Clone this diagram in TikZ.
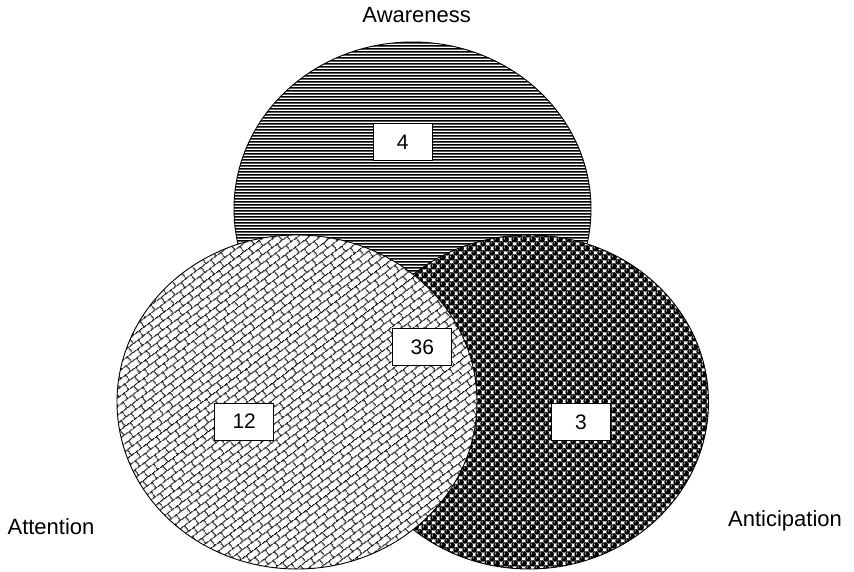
\documentclass[tikz,border=0pt]{standalone}
\usepackage{fontspec}
\setmainfont{Liberation Sans}
\usetikzlibrary{patterns.meta}

\pgfdeclarepattern{
  name=hstripes, type=colored,
  bottom left={\pgfpoint{0pt}{0pt}}, top right={\pgfpoint{3pt}{3pt}},
  tile size={\pgfpoint{3pt}{3pt}},
  code={\pgfsetfillcolor{black}\pgfpathrectangle{\pgfpoint{-1pt}{0.6pt}}{\pgfpoint{5pt}{1.8pt}}\pgfusepath{fill}}
}
\pgfdeclarepattern{
  name=bricks, type=colored,
  bottom left={\pgfpoint{0pt}{0pt}}, top right={\pgfpoint{13pt}{14pt}},
  tile size={\pgfpoint{13pt}{14pt}},
  tile transformation={\pgftransformrotate{37}},
  code={\pgfsetlinewidth{1.1pt}\pgfsetstrokecolor{black}
    \pgfpathmoveto{\pgfpoint{-1pt}{3.5pt}}\pgfpathlineto{\pgfpoint{14pt}{3.5pt}}
    \pgfpathmoveto{\pgfpoint{-1pt}{10.5pt}}\pgfpathlineto{\pgfpoint{14pt}{10.5pt}}
    \pgfpathmoveto{\pgfpoint{3pt}{3.5pt}}\pgfpathlineto{\pgfpoint{3pt}{10.5pt}}
    \pgfpathmoveto{\pgfpoint{9.5pt}{10.5pt}}\pgfpathlineto{\pgfpoint{9.5pt}{15pt}}
    \pgfpathmoveto{\pgfpoint{9.5pt}{-1pt}}\pgfpathlineto{\pgfpoint{9.5pt}{3.5pt}}
    \pgfusepath{stroke}}
}
\pgfdeclarepattern{
  name=balls, type=colored,
  bottom left={\pgfpoint{0pt}{0pt}}, top right={\pgfpoint{8.6pt}{8.6pt}},
  tile size={\pgfpoint{8.6pt}{8.6pt}},
  code={\pgfsetfillcolor{black}
    \pgfpathcircle{\pgfpoint{0pt}{0pt}}{3pt}
    \pgfpathcircle{\pgfpoint{8.6pt}{0pt}}{3pt}
    \pgfpathcircle{\pgfpoint{0pt}{8.6pt}}{3pt}
    \pgfpathcircle{\pgfpoint{8.6pt}{8.6pt}}{3pt}
    \pgfpathcircle{\pgfpoint{4.3pt}{4.3pt}}{3pt}
    \pgfusepath{fill}
    \pgfsetfillcolor{white}
    \pgfpathcircle{\pgfpoint{-0.9pt}{0.9pt}}{0.7pt}
    \pgfpathcircle{\pgfpoint{7.7pt}{0.9pt}}{0.7pt}
    \pgfpathcircle{\pgfpoint{-0.9pt}{9.5pt}}{0.7pt}
    \pgfpathcircle{\pgfpoint{7.7pt}{9.5pt}}{0.7pt}
    \pgfpathcircle{\pgfpoint{3.4pt}{5.2pt}}{0.7pt}
    \pgfusepath{fill}}
}

\tikzset{
  setline/.style={draw=black, line width=0.9pt},
  numbox/.style={draw=black, line width=1pt, fill=white, minimum width=59pt, minimum height=37pt, inner sep=0pt, font=\fontsize{21}{25}\selectfont},
  lbl/.style={anchor=base, inner sep=0pt, font=\fontsize{22}{26}\selectfont}
}

\begin{document}
\begin{tikzpicture}[x=1pt,y=-1pt]
\useasboundingbox (0,0) rectangle (854,572);
% Awareness set
\path[fill=white] (412.5,209) ellipse [x radius=178.5, y radius=167];
\path[pattern=hstripes] (412.5,209) ellipse [x radius=178.5, y radius=167];
\path[setline] (412.5,209) ellipse [x radius=178.5, y radius=167];
% Anticipation set
\path[fill=white] (529,402) ellipse [x radius=179.5, y radius=167];
\path[pattern=balls] (529,402) ellipse [x radius=179.5, y radius=167];
\path[setline] (529,402) ellipse [x radius=179.5, y radius=167];
% Attention set
\path[fill=white] (297,402) ellipse [x radius=180, y radius=167];
\path[pattern=bricks] (297,402) ellipse [x radius=180, y radius=167];
\path[setline] (297,402) ellipse [x radius=180, y radius=167];

\node[numbox] (n4) at (402.7,142.5) {4};
\node[numbox] (n36) at (422.3,347.2) {36};
\node[numbox] (n12) at (244.2,421.5) {12};
\node[numbox] (n3) at (581,422) {3};

\node[lbl] (aw) at (416.7,22.7) {Awareness};
\node[lbl] (at) at (51,534) {Attention};
\node[lbl] (an) at (785,526) {Anticipation};
\end{tikzpicture}
\end{document}
